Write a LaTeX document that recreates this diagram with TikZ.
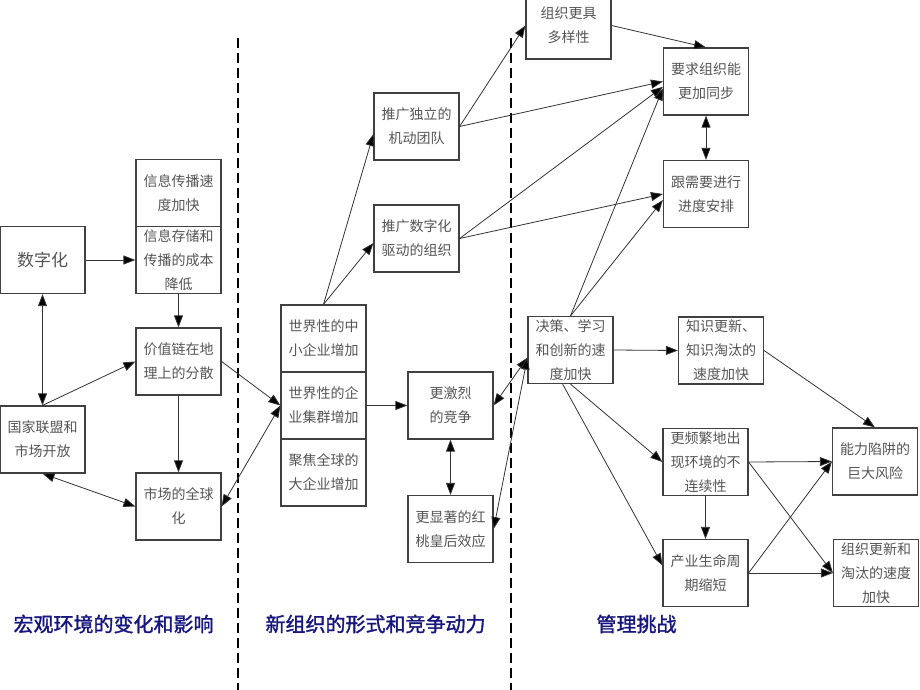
\documentclass[tikz,border=0pt]{standalone}
\usepackage{fontspec}
\setmainfont{Noto Sans CJK SC}
\newfontfamily\titlefont[FakeBold=1.5]{Noto Sans CJK SC}
\usetikzlibrary{arrows.meta}
\definecolor{boxline}{HTML}{404040}
\definecolor{boxtext}{HTML}{555555}
\definecolor{titleblue}{HTML}{16167E}

\begin{document}
\begin{tikzpicture}[x=1pt, y=-1pt,
        box/.style={draw=boxline, line width=1.2pt, fill=white, minimum width=85pt,
            minimum height=67pt, inner sep=0pt, align=center, text=boxtext,
            font=\fontsize{14}{24}\selectfont},
        link/.style={draw=black!80, line width=0.8pt, -{Triangle[length=12pt,width=9pt,fill=black]}},
        both/.style={link, {Triangle[length=12pt,width=9pt,fill=black]}-{Triangle[length=12pt,width=9pt,fill=black]}},
        sep/.style={line width=1.2pt, dash pattern=on 10pt off 5pt},
        title/.style={text=titleblue, font=\titlefont\fontsize{20}{24}\selectfont, anchor=west}]
        \useasboundingbox (0,0) rectangle (920,690);
        \draw[sep] (238,38) -- (238,690);
        \draw[sep] (511,38) -- (511,690);

        \node[box, font=\fontsize{17}{24}\selectfont] (digi) at (42.5,260) {数字化};
        \node[box] (spread)  at (178.5,193)   {信息传播速\\度加快};
        \node[box] (cost)    at (178.5,260)   {信息存储和\\传播的成本\\降低};
        \node[box] (chain)   at (178.5,361.5) {价值链在地\\理上的分散};
        \node[box] (union)   at (42.5,439.5)  {国家联盟和\\市场开放};
        \node[box] (market)  at (178.5,506.5) {市场的全球\\化};

        \node[box] (divers)  at (568.5,25.5)  {组织更具\\多样性};
        \node[box] (team)    at (416.5,126.5) {推广独立的\\机动团队};
        \node[box] (dorg)    at (416.5,238.5) {推广数字化\\驱动的组织};
        \node[box] (sme)     at (323.5,338.5) {世界性的中\\小企业增加};
        \node[box] (cluster) at (323.5,405.5) {世界性的企\\业集群增加};
        \node[box] (large)   at (323.5,472.5) {聚焦全球的\\大企业增加};
        \node[box] (compete) at (450.5,405.5) {更激烈\\的竞争};
        \node[box] (queen)   at (450.5,529)   {更显著的红\\桃皇后效应};

        \node[box] (speed)   at (570.5,350)   {决策、学习\\和创新的速\\度加快};
        \node[box] (sync)    at (706,81.5)    {要求组织能\\更加同步};
        \node[box] (sched)   at (706,194)     {跟需要进行\\进度安排};
        \node[box] (know)    at (721,350.5)   {知识更新、\\知识淘汰的\\速度加快};
        \node[box] (discont) at (705.5,462)   {更频繁地出\\现环境的不\\连续性};
        \node[box] (cycle)   at (705.5,573)   {产业生命周\\期缩短};
        \node[box] (trap)    at (875,461.5)   {能力陷阱的\\巨大风险};
        \node[box] (renew)   at (876,573)     {组织更新和\\淘汰的速度\\加快};

        \draw[link] (digi.east)    -- (cost.west);
        \draw[link] (cost.south)   -- (chain.north);
        \draw[both] (digi.south)   -- (union.north);
        \draw[link] (union.north)  -- (chain.west);
        \draw[link] (chain.south)  -- (market.north);
        \draw[both] (union.south)  -- (market.west);
        \draw[link] (chain.east)   -- (cluster.west);
        \draw[both] (market.east)  -- (cluster.west);

        \draw[link] (sme.north)    -- (team.190);
        \draw[link] (sme.north)    -- (dorg.186);
        \draw[link] (team.east)    -- (divers.west);
        \draw[link] (team.east)    -- (sync.west);
        \draw[link] (dorg.east)    -- (sync.187);
        \draw[link] (dorg.east)    -- (sched.west);
        \draw[link] (divers.east)  -- (sync.north);
        \draw[both] (sync.south)   -- (sched.north);
        \draw[link] (cluster.east) -- (compete.west);
        \draw[both] (compete.south) -- (queen.north);
        \draw[both] (compete.east) -- (speed.190);
        \draw[both] (queen.east)   -- (speed.190);

        \draw[link] (speed.north)  -- (sync.189);
        \draw[link] (speed.north)  -- (sched.188);
        \draw[link] (speed.east)   -- (know.west);
        \draw[link] (speed.south)  -- (discont.west);
        \draw[link] (speed.257)    -- (cycle.170);
        \draw[link] (know.east)    -- (trap.north);
        \draw[link] (discont.east) -- (trap.west);
        \draw[link] (discont.east) -- (renew.west);
        \draw[link] (discont.south) -- (cycle.north);
        \draw[link] (cycle.east)   -- (trap.west);
        \draw[link] (cycle.east)   -- (renew.west);

        \node[title] (macro)  at (10,624)  {宏观环境的变化和影响};
        \node[title] (form)   at (262,624) {新组织的形式和竞争动力};
        \node[title] (manage) at (593,624) {管理挑战};
\end{tikzpicture}
\end{document}
